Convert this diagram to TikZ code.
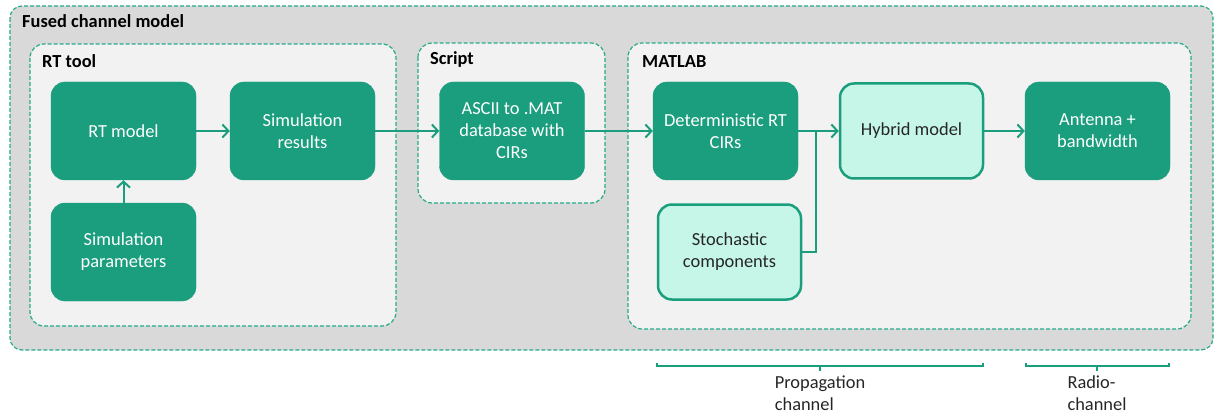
\documentclass[tikz,border=0pt]{standalone}
\usepackage{fontspec}
\setmainfont{Carlito}
\definecolor{chteal}{RGB}{26, 158, 126}
\definecolor{chmint}{RGB}{198, 246, 232}
\definecolor{chdash}{RGB}{40, 170, 138}
\definecolor{chouter}{RGB}{217, 217, 217}
\definecolor{chinner}{RGB}{242, 242, 242}
\usepackage{tikz}
\usetikzlibrary{arrows.meta, positioning}
\tikzstyle{darkbox} = [fill=chteal, draw=chteal, rounded corners=14pt, text=white,
                       minimum width=145pt, minimum height=98pt, align=center,
                       font=\fontsize{18.4}{22}\selectfont]
\tikzstyle{lightbox} = [fill=chmint, draw=chteal, line width=2.5pt, rounded corners=14pt,
                        text=black!85, minimum width=143pt, minimum height=95pt, align=center,
                        font=\fontsize{18.4}{22}\selectfont]
\tikzstyle{groupbox} = [fill=chinner, draw=chdash, line width=1.2pt,
                        dash pattern=on 4pt off 2pt, rounded corners=14pt]
\tikzstyle{grouplabel} = [anchor=base west, inner sep=0pt,
                          font=\fontsize{18.4}{22}\selectfont\bfseries]
\tikzstyle{flow} = [draw=chteal, line width=2pt, -{Straight Barb[length=6pt, width=13pt]}]
\tikzstyle{link} = [draw=chteal, line width=2pt]
\tikzstyle{brace} = [draw=chteal, line width=1.6pt]
\tikzstyle{bracelabel} = [anchor=north, align=left, inner sep=0pt,
                          font=\fontsize{18.4}{22}\selectfont, text=black!85]

\begin{document}
\begin{tikzpicture}[x=1pt, y=-1pt]
    \useasboundingbox (0,0) rectangle (1214,414);
    % frames
    \draw[groupbox, fill=chouter, rounded corners=12pt] (10,6) rectangle (1213,350);
    \node[grouplabel] (fusedlbl) at (22,28) {Fused channel model};
    \draw[groupbox] (30,44) rectangle (396,326);
    \node[grouplabel] (rtlbl) at (42,68) {RT tool};
    \draw[groupbox] (418,43) rectangle (605,203);
    \node[grouplabel] (scriptlbl) at (430,65) {Script};
    \draw[groupbox] (628,43) rectangle (1191,329);
    \node[grouplabel] (matlablbl) at (642,68) {MATLAB};
    % blocks
    \node[darkbox] (rtmodel) at (123.5,131) {RT model};
    \node[darkbox] (simres) at (302.5,131) {Simulation\\results};
    \node[darkbox] (simpar) at (123.5,252) {Simulation\\parameters};
    \node[darkbox] (ascii) at (512,131) {ASCII to .MAT\\database with\\CIRs};
    \node[darkbox] (detrt) at (725.5,131) {Deterministic RT\\CIRs};
    \node[lightbox] (hybrid) at (911.5,131) {Hybrid model};
    \node[darkbox] (antenna) at (1097.5,131) {Antenna +\\bandwidth};
    \node[lightbox] (stoch) at (729.5,252) {Stochastic\\components};
    \coordinate (joint) at (816,131);
    % arrows
    \draw[flow] (simpar) -- (rtmodel);
    \draw[flow] (rtmodel) -- (simres);
    \draw[flow] (simres) -- (ascii);
    \draw[flow] (ascii) -- (detrt);
    \draw[flow] (detrt) -- (hybrid);
    \draw[link] (stoch.east) -| (joint);
    \draw[flow] (hybrid) -- (antenna);
    % braces
    \coordinate (propL) at (657,366);
    \coordinate (propR) at (983,366);
    \coordinate (propM) at (820,366);
    \coordinate (radL) at (1026,366);
    \coordinate (radR) at (1169,366);
    \coordinate (radM) at (1097,366);
    \draw[brace] ([yshift=3pt]propL) -- (propL) -- (propR) -- ([yshift=3pt]propR);
    \draw[brace] (propM) -- ([yshift=-5pt]propM);
    \draw[brace] ([yshift=3pt]radL) -- (radL) -- (radR) -- ([yshift=3pt]radR);
    \draw[brace] (radM) -- ([yshift=-5pt]radM);
    \node[bracelabel] (proplbl) at ([yshift=-10pt]propM) {Propagation\\channel};
    \node[bracelabel] (radlbl) at ([yshift=-10pt]radM) {Radio-\\channel};
\end{tikzpicture}
\end{document}
